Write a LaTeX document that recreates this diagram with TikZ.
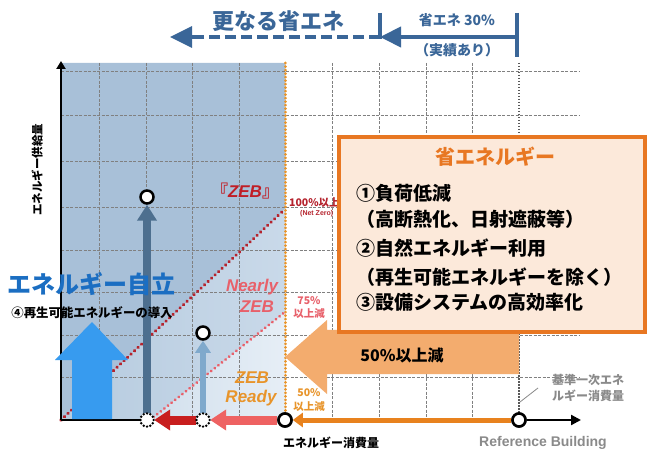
\documentclass[tikz,border=0pt]{standalone}
\usepackage{fontspec}
\setmainfont{Liberation Sans}
\newfontfamily\jp{Noto Sans CJK JP}
\usetikzlibrary{arrows.meta}
\definecolor{hdrblue}{HTML}{3A6698}
\definecolor{regA}{HTML}{A8C0D8}
\definecolor{regBl}{HTML}{B6CBDF}
\definecolor{regBr}{HTML}{C9D9E9}
\definecolor{regCl}{HTML}{D2E0ED}
\definecolor{regCr}{HTML}{E6EEF6}
\definecolor{gridgray}{HTML}{808080}
\definecolor{zorange}{HTML}{E8942A}
\definecolor{boxorange}{HTML}{E87722}
\definecolor{boxfill}{HTML}{FCE9DA}
\definecolor{bigorange}{HTML}{F3AC6E}
\definecolor{lineorange}{HTML}{E8821E}
\definecolor{darkred}{HTML}{B5232D}
\definecolor{pinkred}{HTML}{E8606A}
\definecolor{arrpink}{HTML}{EE6262}
\definecolor{arrred}{HTML}{C81E1E}
\definecolor{slate}{HTML}{4D6F8F}
\definecolor{lightblue}{HTML}{7FA9CC}
\definecolor{bigblue}{HTML}{379BEF}
\definecolor{textblue}{HTML}{1B6EC2}
\definecolor{refgray}{HTML}{8A8A8A}
\begin{document}
\begin{tikzpicture}[x=1pt,y=-1pt,
  gridline/.style={gridgray,line width=0.9pt,dash pattern=on 3pt off 1.5pt},
  opencirc/.style={circle,draw=black,fill=white,line width=2.5pt,minimum size=13pt,inner sep=0pt},
  whitecirc/.style={circle,fill=white,minimum size=14pt,inner sep=0pt},
  jpb/.style={font=\jp\bfseries\fontsize{#1}{#1}\selectfont,inner sep=0pt},
  lab/.style={font=\bfseries\itshape\fontsize{#1}{#1}\selectfont,inner sep=0pt},
]
\useasboundingbox (0,0) rectangle (648,454);
\fill[white] (0,0) rectangle (648,454);

% shaded regions
\fill[regA] (61,63) -- (285,63) -- (285,209) -- (61,420) -- cycle;
\shade[left color=regBl,right color=regBr] (61,420) -- (285,209) -- (285,312) -- (150,420) -- cycle;
\shade[left color=regCl,right color=regCr] (150,420) -- (285,312) -- (285,420) -- cycle;

% grid
\foreach \yy in {71,115,161,207,250,292,335,377}
  \draw[gridline] (61,\yy) -- (580,\yy);
\foreach \xx in {99,146,192,239,332,379,426,472}
  \draw[gridline] (\xx,63) -- (\xx,420);
\draw[black!65,line width=1.6pt,dash pattern=on 1.5pt off 1.5pt] (519,63) -- (519,420);
\draw[zorange,line width=3pt,dash pattern=on 0.01pt off 3.5pt,line cap=round] (285,63) -- (285,420);

% diagonals
\coordinate (d100a) at (61,420); \coordinate (d100b) at (285,209);
\coordinate (d75a) at (150,420); \coordinate (d75b) at (285,312);
\draw[darkred,line width=3.6pt,dash pattern=on 0.01pt off 4.8pt,line cap=round] (d100a) -- (d100b);
\draw[pinkred,line width=3.2pt,dash pattern=on 0.01pt off 4.6pt,line cap=round] (d75a) -- (d75b);

% chart labels
\node[lab=17,darkred!85!red] (zeb) at (245,191) {{\jp『}ZEB{\jp』}};
\node[jpb=10.5,darkred,anchor=west] (p100) at (289,203) {100\%以上減};
\node[font=\bfseries\fontsize{7}{7}\selectfont,inner sep=0pt,darkred,anchor=west] (netzero) at (300,214) {(Net Zero)};
\node[lab=17,pinkred] (nearly) at (252,287) {Nearly};
\node[lab=17,pinkred] (nzeb) at (257,307) {ZEB};
\node[jpb=10.5,pinkred] (p75) at (309,301) {75\%};
\node[jpb=10.5,pinkred] (p75b) at (309,314) {以上減};
\node[lab=17,zorange] (rzeb) at (252,378) {ZEB};
\node[lab=17,zorange] (ready) at (251,398) {Ready};
\node[jpb=10.5,zorange] (p50) at (309,393) {50\%};
\node[jpb=10.5,zorange] (p50b) at (309,407) {以上減};

% big orange arrow
\fill[bigorange] (519,330) -- (327,330) -- (327,320) -- (285,357) -- (327,394) -- (327,374) -- (519,374) -- cycle;
\node[jpb=16,black] (p50big) at (402,355) {50\%以上減};

% box
\node[draw=boxorange,fill=boxfill,line width=4pt,minimum width=306pt,minimum height=195pt,inner sep=0pt] (box) at (492,234.5) {};
\node[jpb=20,boxorange] (boxtitle) at (495,157) {省エネルギー};
\node[jpb=19,black,anchor=west] (l1) at (356,193) {①負荷低減};
\node[jpb=19,black,anchor=west] (l2) at (356,219) {（高断熱化、日射遮蔽等）};
\node[jpb=19,black,anchor=west] (l3) at (356,248) {②自然エネルギー利用};
\node[jpb=19,black,anchor=west] (l4) at (356,277) {（再生可能エネルギーを除く）};
\node[jpb=19,black,anchor=west] (l5) at (356,302) {③設備システムの高効率化};

% axes and points
\coordinate (o) at (61,420);
\coordinate (ytop) at (61,61);
\coordinate (xend) at (581,420);
\node[opencirc] (r0) at (285,420) {};
\node[opencirc] (ref) at (519,420) {};
\node[whitecirc] (c203) at (203,420) {};
\node[whitecirc] (c147) at (147,420) {};
\node[opencirc] (t1) at (147,197) {};
\node[opencirc] (t2) at (203,333) {};

\draw[black,line width=2.5pt,-{Triangle[width=9pt,length=8pt]}] (o) -- (ytop);
\draw[black,line width=2.5pt] (o) -- (c147);
\draw[black,line width=2.2pt,-{Triangle[width=10pt,length=10pt]}] (ref) -- (xend);
\draw[lineorange,line width=5pt,-{Triangle[width=14pt,length=10pt]}] (ref) -- (r0);
\draw[arrpink,line width=9pt,-{Triangle[width=20pt,length=16pt]}] (r0) -- (c203);
\draw[arrred,line width=9pt,-{Triangle[width=20pt,length=16pt]}] (c203) -- (c147);
\draw[slate,line width=8pt,-{Triangle[width=19pt,length=16pt]}] (c147) -- (t1);
\draw[lightblue,line width=6pt,-{Triangle[width=15pt,length=12pt]}] (c203) -- (t2);
% redraw circles on top
\node[opencirc] at (r0) {};
\node[opencirc] at (ref) {};
\node[whitecirc] at (c203) {};
\node[whitecirc] at (c147) {};
\foreach \a in {0,30,...,330} {
  \fill[black] (c203.center) ++(\a:6.6pt) circle[radius=1.35pt];
  \fill[black] (c147.center) ++(\a:6.6pt) circle[radius=1.35pt];
}

% big blue arrow
\fill[bigblue] (72,419) -- (72,360) -- (55,360) -- (92,322) -- (128,360) -- (112,360) -- (112,419) -- cycle;
\node[jpb=24,textblue] (jiritsu) at (92,284) {エネルギー自立};
\node[jpb=12.4,black] (saisei) at (92,313) {④再生可能エネルギーの導入};

% axis labels
\node[jpb=11.5,black,rotate=90] (ylab) at (37,170) {エネルギー供給量};
\node[jpb=12,black,anchor=west] (xlab) at (283,443) {エネルギー消費量};
\node[font=\bfseries\fontsize{14}{14}\selectfont,inner sep=0pt,refgray] (refb) at (543,443) {Reference Building};
\node[jpb=12,refgray] (kijun1) at (588,380) {基準一次エネ};
\node[jpb=12,refgray] (kijun2) at (588,396) {ルギー消費量};
\coordinate (lead1) at (520,402); \coordinate (lead2) at (538,388);
\draw[refgray,line width=0.8pt] (lead1) -- (lead2);

% header
\coordinate (lbt) at (380,13); \coordinate (lbb) at (380,39);
\coordinate (rbt) at (517,13); \coordinate (rbb) at (517,57);
\coordinate (am) at (380,37); \coordinate (rm) at (517,37);
\coordinate (lend) at (170,37);
\draw[hdrblue,line width=4pt] (lbt) -- (lbb);
\draw[hdrblue,line width=4pt] (rbt) -- (rbb);
\draw[hdrblue,line width=4pt,-{Triangle[width=20pt,length=21pt]}] (rm) -- (am);
\draw[hdrblue,line width=3.5pt,dash pattern=on 11pt off 5pt] (am) -- (192,37);
\draw[hdrblue,line width=3.5pt,-{Triangle[width=21pt,length=22pt]}] (194,37) -- (lend);
\node[jpb=22,hdrblue] (sarani) at (278,21) {更なる省エネ};
\node[jpb=14,hdrblue] (s30) at (457,20) {省エネ 30\%};
\node[jpb=14,hdrblue] (jisseki) at (457,50) {（実績あり）};
\end{tikzpicture}
\end{document}
